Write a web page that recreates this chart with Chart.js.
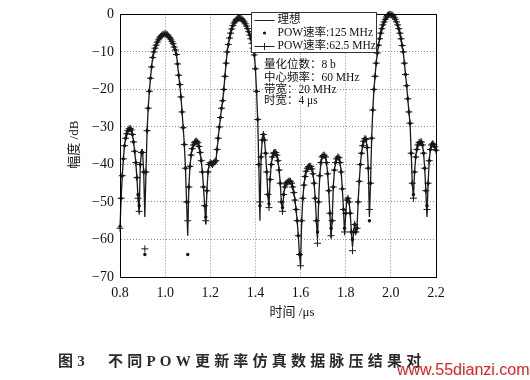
<!DOCTYPE html>
<html><head><meta charset="utf-8">
<script src="https://cdn.jsdelivr.net/npm/chart.js@4.4.0/dist/chart.umd.min.js"></script>
<style>
html,body{margin:0;padding:0;background:#fff;}
#wrap{position:relative;width:530px;height:380px;overflow:hidden;background:#fff;}
#c{position:absolute;left:0;top:0;}
#cap{position:absolute;left:58px;top:352px;font:bold 15px "Liberation Serif","Noto Sans CJK SC",serif;letter-spacing:4.2px;color:#2a2a2a;white-space:nowrap;line-height:18px;}
#wm{position:absolute;left:397px;top:361px;font:16px "Liberation Sans",sans-serif;color:#d22;white-space:nowrap;line-height:18px;}
</style></head><body>
<div id="wrap"><canvas id="c" width="530" height="380"></canvas>
<div id="cap">图3　不同POW更新率仿真数据脉压结果对</div>
<div id="wm">www.55dianzi.com</div></div>
<script>
// sampling grid of the time axis (µs)
const tStart = 0.8, tStep = 0.005, tCount = 281;
const times = Array.from({length: tCount}, (_, i) => +(tStart + i * tStep).toFixed(3));

// 理想 (ideal) — dB
const ideal = [
-57,-49,-43,-38.5,-35,-33,-31.8,-31,-30.5,-30.4,
-30.8,-32,-34,-36.5,-39.5,-43.5,-49,-53,-40,-36.8,
-36.8,-42,-54,-42,-31,-25,-20.5,-17,-14,-11.5,
-10,-9,-8.2,-7.4,-6.8,-6.3,-5.9,-5.6,-5.35,-5.2,
-5.2,-5.25,-5.45,-5.8,-6.2,-6.6,-7.2,-7.8,-8.7,-9.5,
-10.7,-13.2,-16.2,-18.7,-22,-26,-30.2,-34.7,-41,-50,
-59,-46,-40.5,-37.5,-35.8,-34.8,-34.2,-33.9,-33.8,-34.2,
-35.2,-36.8,-39,-42,-46,-51,-56,-47,-42,-40,
-39.5,-39.8,-40,-39.6,-39.3,-39,-36,-33,-30,-27.5,
-25,-23,-20,-16.5,-13,-10,-8,-6.3,-5,-3.9,
-3,-2.3,-1.8,-1.4,-1.15,-1.0,-1.0,-1.05,-1.25,-1.55,
-2,-2.5,-3.1,-3.8,-4.6,-5.5,-6.5,-7.7,-9,-10.8,
-14.5,-20.5,-28,-40,-55,-38,-33.5,-32,-33.5,-37,
-42,-48,-51.5,-44,-40,-38,-37,-36.8,-36.8,-37.5,
-39,-41.5,-45,-50,-52.5,-48,-46,-45.2,-44.8,-44.5,
-44.4,-44.5,-45,-46,-47.5,-49.5,-52,-55,-59,-64,
-67,-55,-49,-45.5,-43.2,-41.8,-41,-40.6,-40.5,-40.5,
-41.2,-42.5,-45,-49,-55,-60,-50,-43,-39.5,-38,
-37.6,-37.5,-38,-39.5,-42.5,-47,-53,-59.5,-55,-46,
-41.5,-39.5,-38.5,-38,-38.2,-39.5,-42,-46.5,-52,-58.5,
-53,-49.5,-49,-50,-53,-58,-62,-58,-56,-58,
-57,-50,-44.5,-40,-37,-35,-33.8,-33.1,-33.3,-35.5,
-41,-54,-45,-33,-25.5,-20,-16.5,-13,-10.3,-8.2,
-6.5,-5,-3.8,-2.8,-2,-1.3,-0.7,-0.3,-0.1,0,
0,-0.15,-0.4,-0.8,-1.3,-2,-2.8,-3.8,-5,-6.5,
-8.3,-10,-13,-16,-19,-22.5,-26,-29,-37,-45,
-49,-42,-38,-36,-34.8,-34.2,-34,-34,-34.8,-37,
-41,-47,-54,-45,-39,-36,-34.8,-34.5,-34.7,-35.3,
-36.2
];

// POW速率:125 MHz — dB
const pow125 = [
-56.5,-49,-43,-38.5,-35,-33,-31.8,-31,-30.5,-30.4,
-30.8,-32,-34,-36.5,-39.5,-43.5,-48,-51,-40,-36.8,
-36.8,-42,-64,-42,-31,-25,-20.5,-17,-14,-11.5,
-10,-9,-8.2,-7.4,-6.8,-6.3,-5.9,-5.6,-5.35,-5.2,
-5.2,-5.25,-5.45,-5.8,-6.2,-6.6,-7.2,-7.8,-8.7,-9.5,
-10.7,-13.2,-16.2,-18.7,-22,-26,-30.2,-34.7,-41,-50,
-64,-46,-40.5,-37.5,-35.8,-34.8,-34.2,-33.9,-33.8,-34.2,
-35.2,-36.8,-39,-42,-46,-51,-54,-47,-42,-40,
-39.5,-39.8,-40,-39.6,-39.3,-39,-36,-33,-30,-27.5,
-25,-23,-20,-16.5,-13,-10,-8,-6.3,-5,-3.9,
-3,-2.3,-1.8,-1.4,-1.15,-1.0,-1.0,-1.05,-1.25,-1.55,
-2,-2.5,-3.1,-3.8,-4.6,-5.5,-6.5,-7.7,-9,-10.8,
-14.5,-20.5,-28,-40,-51,-38,-33.5,-32,-33.5,-37,
-42,-48,-50.5,-44,-40,-38,-37,-36.8,-36.8,-37.5,
-39,-41.5,-45,-50,-51.5,-48,-46,-45.2,-44.8,-44.5,
-44.4,-44.5,-45,-46,-47.5,-49.5,-52,-55,-59,-64,
-64,-55,-49,-45.5,-43.2,-41.8,-41,-40.6,-40.5,-40.5,
-41.2,-42.5,-45,-49,-55,-58,-50,-43,-39.5,-38,
-37.6,-37.5,-38,-39.5,-42.5,-47,-53,-57,-55,-46,
-41.5,-39.5,-38.5,-38,-38.2,-39.5,-42,-46.5,-52,-57,
-53,-49.5,-49,-50,-53,-58,-60,-58,-56,-58,
-57,-50,-44.5,-40,-37,-35,-33.8,-33.1,-33.3,-35.5,
-41,-55,-45,-33,-25.5,-20,-16.5,-13,-10.3,-8.2,
-6.5,-5,-3.8,-2.8,-2,-1.3,-0.7,-0.3,-0.1,0,
0,-0.15,-0.4,-0.8,-1.3,-2,-2.8,-3.8,-5,-6.5,
-8.3,-10,-13,-16,-19,-22.5,-26,-29,-37,-45,
-48,-42,-38,-36,-34.8,-34.2,-34,-34,-34.8,-37,
-41,-47,-51,-45,-39,-36,-34.8,-34.5,-34.7,-35.3,
-36.2
];

// POW速率:62.5 MHz — dB
const pow62 = [
-57,-49,-43,-38.5,-35,-33,-31.8,-31,-30.5,-30.4,
-30.8,-32,-34,-36.5,-39.5,-43.5,-49,-52.5,-40,-36.8,
-36.8,-42,-62.5,-42,-31,-25,-20.5,-17,-14,-11.5,
-10,-9,-8.2,-7.4,-6.8,-6.3,-5.9,-5.6,-5.35,-5.2,
-5.2,-5.25,-5.45,-5.8,-6.2,-6.6,-7.2,-7.8,-8.7,-9.5,
-10.7,-13.2,-16.2,-18.7,-22,-26,-30.2,-34.7,-41,-50,
-55,-46,-40.5,-37.5,-35.8,-34.8,-34.2,-33.9,-33.8,-34.2,
-35.2,-36.8,-39,-42,-46,-51,-55,-47,-42,-40,
-39.5,-39.8,-40,-39.6,-39.3,-39,-36,-33,-30,-27.5,
-25,-23,-20,-16.5,-13,-10,-8,-6.3,-5,-3.9,
-3,-2.3,-1.8,-1.4,-1.15,-1.0,-1.0,-1.05,-1.25,-1.55,
-2,-2.5,-3.1,-3.8,-4.6,-5.5,-6.5,-7.7,-9,-10.8,
-14.5,-20.5,-28,-40,-50,-38,-33.5,-32,-33.5,-37,
-42,-48,-51.5,-44,-40,-38,-37,-36.8,-36.8,-37.5,
-39,-41.5,-45,-50,-52.5,-48,-46,-45.2,-44.8,-44.5,
-44.4,-44.5,-45,-46,-47.5,-49.5,-52,-55,-59,-64,
-67,-55,-49,-45.5,-43.2,-41.8,-41,-40.6,-40.5,-40.5,
-41.2,-42.5,-45,-49,-55,-61,-50,-43,-39.5,-38,
-37.6,-37.5,-38,-39.5,-42.5,-47,-53,-59,-55,-46,
-41.5,-39.5,-38.5,-38,-38.2,-39.5,-42,-46.5,-52,-58,
-53,-49.5,-49,-50,-53,-58,-63,-58,-56,-58,
-57,-50,-44.5,-40,-37,-35,-33.8,-33.1,-33.3,-35.5,
-41,-52,-45,-33,-25.5,-20,-16.5,-13,-10.3,-8.2,
-6.5,-5,-3.8,-2.8,-2,-1.3,-0.7,-0.3,-0.1,0,
0,-0.15,-0.4,-0.8,-1.3,-2,-2.8,-3.8,-5,-6.5,
-8.3,-10,-13,-16,-19,-22.5,-26,-29,-37,-45,
-49,-42,-38,-36,-34.8,-34.2,-34,-34,-34.8,-37,
-41,-47,-52,-45,-39,-36,-34.8,-34.5,-34.7,-35.3,
-36.2
];

const xTickValues = [0.8, 1.0, 1.2, 1.4, 1.6, 1.8, 2.0, 2.2];
const xTickLabels = ['0.8','1.0','1.2','1.4','1.6','1.8','2.0','2.2'];
const yTickValues = [-70, -60, -50, -40, -30, -20, -10, 0];
const yTickLabels = ['\u221270','\u221260','\u221250','\u221240','\u221230','\u221220','\u221210','0'];
const seriesNames = ['理想', 'POW速率:125 MHz', 'POW速率:62.5 MHz'];
const notes = ['量化位数：8 b', '中心频率：60 MHz', '带宽：20 MHz', '时宽：4 μs'];
const xTitle = '时间 /μs';
const yTitle = '幅度 /dB';

const SERIF = '"Liberation Serif", "Noto Sans CJK SC", serif';
const pts = arr => times.map((t, i) => ({x: t, y: arr[i]}));

const deco = {
  id: 'deco',
  afterDraw(chart) {
    const {ctx, chartArea: a} = chart;
    ctx.save();
    // frame
    ctx.strokeStyle = '#000'; ctx.lineWidth = 1; ctx.setLineDash([]);
    ctx.strokeRect(Math.round(a.left) + 0.5, Math.round(a.top) + 0.5,
                   Math.round(a.right - a.left), Math.round(a.bottom - a.top));
    // legend
    const bx = Math.round(a.left) + 131.5, by = Math.round(a.top) - 1.5, bw = 125, bh = 40;
    ctx.fillStyle = '#fff'; ctx.fillRect(bx, by, bw, bh);
    ctx.strokeStyle = '#333'; ctx.strokeRect(bx, by, bw, bh);
    const rows = [by + 7, by + 20.5, by + 33.5];
    const lx0 = bx + 3, lx1 = bx + 23, lxm = bx + 13;
    ctx.strokeStyle = '#222'; ctx.lineWidth = 1;
    ctx.beginPath(); ctx.moveTo(lx0, Math.round(rows[0]) + 0.5); ctx.lineTo(lx1, Math.round(rows[0]) + 0.5); ctx.stroke();
    ctx.fillStyle = '#111'; ctx.beginPath(); ctx.arc(lxm, rows[1], 1.6, 0, Math.PI * 2); ctx.fill();
    const r2 = Math.round(rows[2]) + 0.5;
    ctx.beginPath(); ctx.moveTo(lx0, r2); ctx.lineTo(lx1, r2); ctx.stroke();
    ctx.beginPath(); ctx.moveTo(lxm, r2 - 3.5); ctx.lineTo(lxm, r2 + 3.5); ctx.stroke();
    ctx.fillStyle = '#111';
    ctx.font = '11.5px ' + SERIF; ctx.textBaseline = 'middle'; ctx.textAlign = 'left';
    seriesNames.forEach((s, i) => ctx.fillText(s, bx + 26, rows[i]));
    // notes
    const ny = [65, 77.5, 89.5, 101];
    notes.forEach((s, i) => ctx.fillText(s, a.left + 144, ny[i]));
    // axis titles
    ctx.font = '13px ' + SERIF; ctx.textAlign = 'center';
    ctx.fillText(xTitle, (a.left + a.right) / 2 + 14, a.bottom + 36);
    ctx.save();
    ctx.translate(a.left - 45, (a.top + a.bottom) / 2 - 1);
    ctx.rotate(-Math.PI / 2);
    ctx.fillText(yTitle, 0, 0);
    ctx.restore();
    ctx.restore();
  }
};

const gridOpts = {color: '#8a8a8a', lineWidth: 1, drawTicks: false};
const borderOpts = {color: '#000', width: 1, dash: [1, 2]};
const tickFont = {family: SERIF, size: 14};

new Chart(document.getElementById('c'), {
  type: 'line',
  data: {
    datasets: [
      {label: seriesNames[0], data: pts(ideal), borderColor: '#1a1a1a', borderWidth: 1.3,
       pointRadius: 0, tension: 0, order: 3, clip: false},
      {label: seriesNames[1], data: pts(pow125), showLine: false, pointStyle: 'circle',
       pointRadius: 1.7, backgroundColor: '#111', borderColor: '#111', borderWidth: 0, order: 2, clip: false},
      {label: seriesNames[2], data: pts(pow62), showLine: false, pointStyle: 'cross',
       pointRadius: 3.5, borderColor: '#1a1a1a', borderWidth: 1, order: 1, clip: false}
    ]
  },
  options: {
    responsive: false, animation: false, devicePixelRatio: 1,
    layout: {padding: {left: 62, right: 94, top: 12, bottom: 79}},
    plugins: {legend: {display: false}, tooltip: {enabled: false}},
    scales: {
      x: {
        type: 'linear', min: 0.8, max: 2.2,
        afterBuildTicks: s => { s.ticks = xTickValues.map(v => ({value: v})); },
        afterFit: s => { s.height = 24; },
        ticks: {callback: (v, i) => xTickLabels[i], font: tickFont, color: '#111',
                padding: 8, maxRotation: 0, autoSkip: false},
        grid: gridOpts, border: borderOpts
      },
      y: {
        type: 'linear', min: -70, max: 0,
        afterBuildTicks: s => { s.ticks = yTickValues.map(v => ({value: v})); },
        afterFit: s => { s.width = 58; },
        ticks: {callback: (v, i) => yTickLabels[i], font: tickFont, color: '#111',
                padding: 6, autoSkip: false},
        grid: gridOpts, border: borderOpts
      }
    }
  },
  plugins: [deco]
});
</script></body></html>
